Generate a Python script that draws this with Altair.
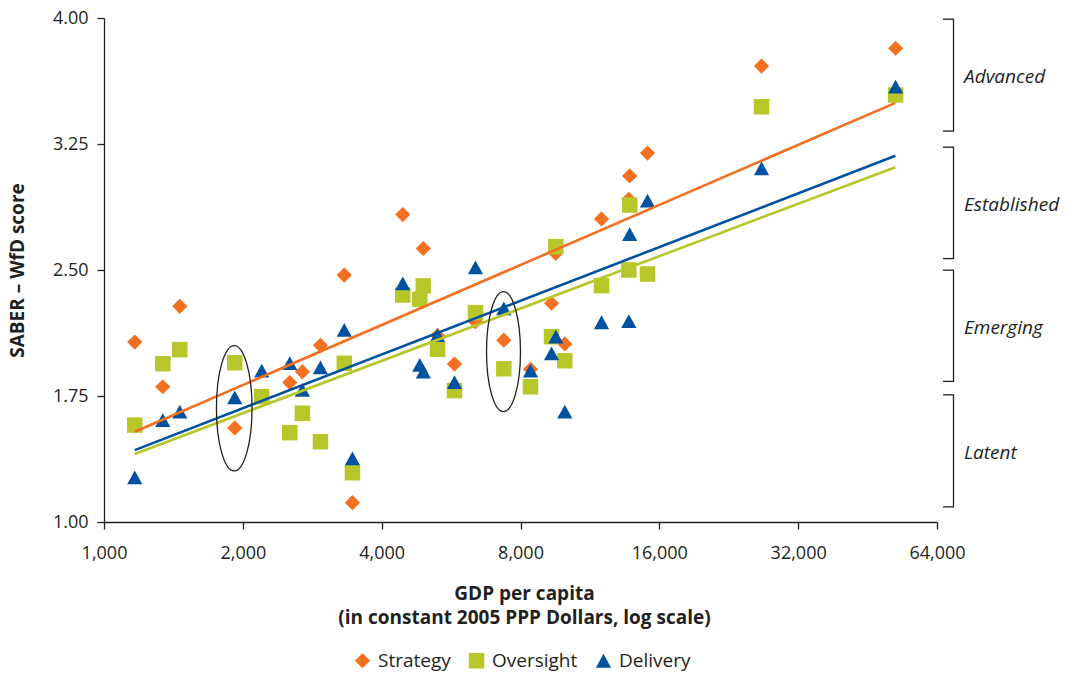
import altair as alt
import pandas as pd

# ---------------- data ----------------
gdp = [1166, 1341, 1460, 1921, 2198, 2528, 2693, 2946, 3319, 3457, 4444, 4838, 4924, 5286,
       5754, 6390, 7361, 8410, 9340, 9543, 9981, 11990, 13740, 13800, 15085, 26650, 52060]
strategy = [2.071, 1.805, 2.284, 1.560, 1.746, 1.830, 1.894, 2.052, 2.470, 1.115, 2.830, 2.326, 2.628, 2.110,
            1.940, 2.192, 2.082, 1.909, 2.302, 2.599, 2.060, 2.804, 2.921, 3.060, 3.196, 3.714, 3.820]
oversight = [1.577, 1.942, 2.026, 1.948, 1.746, 1.532, 1.647, 1.478, 1.945, 1.293, 2.351, 2.326, 2.405, 2.028,
             1.782, 2.246, 1.912, 1.805, 2.103, 2.639, 1.960, 2.407, 2.500, 2.887, 2.476, 3.472, 3.542]
delivery = [1.266, 1.607, 1.657, 1.742, 1.901, 1.945, 1.786, 1.921, 2.143, 1.379, 2.421, 1.935, 1.895, 2.113,
            1.832, 2.516, 2.272, 1.901, 2.004, 2.103, 1.657, 2.189, 2.195, 2.714, 2.913, 3.105, 3.591]

series_names = ["Strategy", "Oversight", "Delivery"]

trend_x = [1166, 52000]
trend_strategy = [1.537, 3.495]
trend_oversight = [1.405, 3.112]
trend_delivery = [1.428, 3.180]

levels = ["Advanced", "Established", "Emerging", "Latent"]
bracket_low = [3.327, 2.568, 1.837, 1.090]
bracket_high = [3.993, 3.231, 2.499, 1.757]

ellipse_x = [1916, 7349]
ellipse_y = [1.677, 2.014]

x_ticks = [1000, 2000, 4000, 8000, 16000, 32000, 64000]
y_ticks = [1.00, 1.75, 2.50, 3.25, 4.00]

# ---------------- styles ----------------
W, H = 833, 504
INK = "#231F20"
FONT = "Open Sans"
series_colors = ["#F37021", "#B7C72A", "#0052A0"]
diamond = "M0,-0.95L0.95,0L0,0.95L-0.95,0Z"
square = "M-0.97,-0.97L0.97,-0.97L0.97,0.97L-0.97,0.97Z"
triangle = "M0,-0.86L0.95,0.86L-0.95,0.86Z"
series_shapes = [diamond, square, triangle]


def ellipse_path(a):
    k = 0.5523
    return (f"M {a} 0 C {a} {k} {a*k:.4f} 1 0 1 C {-a*k:.4f} 1 {-a} {k} {-a} 0 "
            f"C {-a} {-k} {-a*k:.4f} -1 0 -1 C {a*k:.4f} -1 {a} {-k} {a} 0 Z")


x_scale = alt.Scale(type="log", domain=[1000, 64000], nice=False)
y_scale = alt.Scale(domain=[1, 4], nice=False, zero=False)

x_axis = alt.Axis(
    values=x_ticks, format=",.0f", grid=False,
    title=["GDP per capita", "(in constant 2005 PPP Dollars, log scale)"],
    domainColor=INK, domainWidth=1.3, tickColor=INK, tickWidth=1.3, tickSize=7,
    labelFont=FONT, labelFontSize=18, labelColor=INK, labelPadding=15,
    labelFlush=False, labelOverlap=False,
    titleFont=FONT, titleFontSize=19, titleFontWeight="bold", titleColor=INK,
    titleLineHeight=24, titleX=420, titleY=77, titleAlign="center", titleBaseline="alphabetic",
)
y_axis = alt.Axis(
    values=y_ticks, format=".2f", grid=False, title="SABER – WfD score",
    domainColor=INK, domainWidth=1.3, tickColor=INK, tickWidth=1.3, tickSize=7,
    labelFont=FONT, labelFontSize=18, labelColor=INK, labelPadding=9,
    labelFlush=False, labelOverlap=False,
    titleFont=FONT, titleFontSize=19, titleFontWeight="bold", titleColor=INK,
    titleX=-87, titleY=H / 2, titleAngle=270, titleAlign="center", titleBaseline="middle",
)

pts = pd.DataFrame({
    "gdp": gdp * 3,
    "score": strategy + oversight + delivery,
    "series": [series_names[0]] * len(gdp) + [series_names[1]] * len(gdp) + [series_names[2]] * len(gdp),
})

legend = alt.Legend(
    title=None, orient="none", legendX=249, legendY=633, direction="horizontal",
    symbolSize=256, labelFont=FONT, labelFontSize=19, labelColor=INK, labelOffset=6,
    columnPadding=16, padding=0, symbolStrokeWidth=0, symbolOpacity=1,
)

points = alt.Chart(pts).mark_point(filled=True, opacity=1, size=256, strokeWidth=0).encode(
    x=alt.X("gdp:Q", scale=x_scale, axis=x_axis),
    y=alt.Y("score:Q", scale=y_scale, axis=y_axis),
    color=alt.Color("series:N", scale=alt.Scale(domain=series_names, range=series_colors), legend=legend),
    shape=alt.Shape("series:N", scale=alt.Scale(domain=series_names, range=series_shapes), legend=legend),
)

layers = [points]
for ys, col in zip([trend_strategy, trend_oversight, trend_delivery], series_colors):
    df = pd.DataFrame({"gdp": trend_x, "score": ys})
    layers.append(
        alt.Chart(df).mark_line(color=col, strokeWidth=2.6).encode(
            x=alt.X("gdp:Q", scale=x_scale), y=alt.Y("score:Q", scale=y_scale)
        )
    )

# ellipses
for ex, ey, half_h, half_w in [(ellipse_x[0], ellipse_y[0], 62.7, 17.8), (ellipse_x[1], ellipse_y[1], 60.0, 17.0)]:
    df = pd.DataFrame({"gdp": [ex], "score": [ey]})
    layers.append(
        alt.Chart(df).mark_point(
            shape=ellipse_path(round(half_w / half_h, 3)), size=(2 * half_h) ** 2,
            filled=False, color=INK, strokeWidth=1.3, opacity=1,
        ).encode(x=alt.X("gdp:Q", scale=x_scale), y=alt.Y("score:Q", scale=y_scale))
    )

# brackets on the right
br = pd.DataFrame({"level": levels, "low": bracket_low, "high": bracket_high})
layers.append(
    alt.Chart(br).mark_rule(color=INK, strokeWidth=1.3).encode(
        x=alt.value(W + 16.5), y=alt.Y("low:Q", scale=y_scale), y2="high:Q"
    )
)
for fld in ["low", "high"]:
    layers.append(
        alt.Chart(br).mark_rule(color=INK, strokeWidth=1.3).encode(
            x=alt.value(W + 6), x2=alt.value(W + 17), y=alt.Y(f"{fld}:Q", scale=y_scale)
        )
    )
layers.append(
    alt.Chart(br).transform_calculate(mid="(datum.low + datum.high) / 2").mark_text(
        align="left", baseline="middle", font=FONT, fontSize=19, fontStyle="italic", color=INK, dy=2
    ).encode(x=alt.value(W + 27), y=alt.Y("mid:Q", scale=y_scale), text="level:N")
)

chart = alt.layer(*layers).properties(
    width=W, height=H,
    autosize=alt.AutoSizeParams(type="none"),
    padding={"left": 104, "top": 18, "right": 1066 - 104 - W, "bottom": 673 - 18 - H},
    background="white",
).configure_view(stroke=None)

chart.save("out.html", embed_options={"renderer": "svg", "actions": False})
